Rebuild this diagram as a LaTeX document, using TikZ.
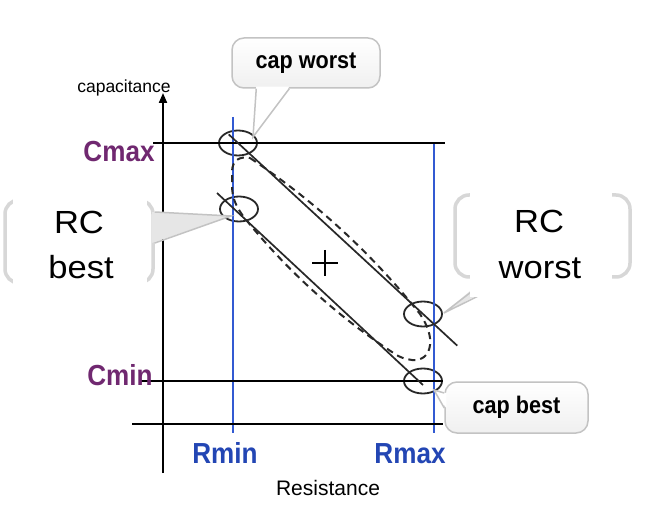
\documentclass[tikz,border=0pt]{standalone}
\usepackage{fontspec}
\setmainfont{Liberation Sans}
\newfontfamily\nbfont[FakeStretch=0.9]{Liberation Sans}
\newfontfamily\wfont[FakeStretch=1.08]{Liberation Sans}
\usetikzlibrary{shapes.geometric,arrows.meta,calc}
\definecolor{cpurple}{RGB}{112,40,112}
\definecolor{cblue}{RGB}{35,70,180}
\definecolor{lblue}{RGB}{50,90,210}
\definecolor{dk}{RGB}{40,40,40}
\definecolor{bord}{RGB}{195,195,195}
\definecolor{rcbord}{RGB}{215,215,215}
\definecolor{ptrfill}{RGB}{230,230,230}
\begin{document}
\begin{tikzpicture}[x=1pt,y=-1pt,
  axisline/.style={draw=black,line width=2},
  gridline/.style={draw=black,line width=1.8},
  rline/.style={draw=lblue,line width=1.6},
  oval/.style={ellipse,draw=dk,line width=1.8,minimum width=38,minimum height=25,inner sep=0},
  diag/.style={draw=dk,line width=1.7},
  dashline/.style={draw=dk,line width=2,dash pattern=on 7pt off 5pt},
  cbox/.style={rectangle,rounded corners=12,draw=bord,line width=1.5,top color=white,bottom color=black!6,
    font=\nbfont\bfseries\fontsize{24}{28}\selectfont,inner sep=0},
  rcbox/.style={rectangle,rounded corners=14,draw=rcbord,line width=3.5,fill=white,inner sep=0},
  rccover/.style={rectangle,fill=white,inner sep=0},
  rctext/.style={font=\wfont\fontsize{32}{36}\selectfont,anchor=base,inner sep=0},
  ptrline/.style={draw=bord,line width=1.5},
  purplelab/.style={font=\nbfont\bfseries\fontsize{29}{32}\selectfont,text=cpurple,anchor=base,inner sep=0},
  bluelab/.style={font=\nbfont\bfseries\fontsize{29}{32}\selectfont,text=cblue,anchor=base,inner sep=0},
]
\useasboundingbox (0,0) rectangle (647,510);
\fill[white] (0,0) rectangle (647,510);

% ellipses
\node[oval] (cw) at (238,143) {};
\node[oval] (rb) at (239,209) {};
\node[oval] (rw) at (423,314) {};
\node[oval] (cb) at (423,381) {};

% blue resistance lines
\draw[rline] (233,117) -- (233,433);
\draw[rline] (434,143) -- (434,433);

% capacitance lines
\draw[gridline] (153,143) -- (445,143);
\draw[gridline] (140,381) -- (443,381);

% axes
\coordinate (yb) at (163,473);
\coordinate (yt) at (163,93);
\coordinate (xl) at (132,424);
\coordinate (xr) at (443,424);
\draw[axisline,-{Triangle[length=10pt,width=8pt]}] (yb) -- (yt);
\draw[axisline] (xl) -- (xr);

% diagonals
\draw[diag] ($(cw.center)!-0.05!(rw.center)$) -- ($(cw.center)!1.185!(rw.center)$);
\draw[diag] ($(rb.center)+(-22,-16)$) -- ($(cb.center)+(0,4)$);

% dashed envelope
\draw[dashline] (250,158) .. controls (314.9,201.2) and (371.5,253.2) .. (420,314)
  .. controls (428,326) and (431,336) .. (430,345)
  .. controls (429,355) and (422,361) .. (412,360)
  .. controls (405,359) and (399,357) .. (395,354)
  .. controls (336.9,316.1) and (286.3,270.1) .. (243,216)
  .. controls (236,206) and (232,198) .. (232,185)
  -- (232,172)
  .. controls (232,160) and (240,156) .. (250,158);

% plus
\draw[line width=2] (312,263) -- (338,263);
\draw[line width=2] (325,250) -- (325,276);

% cap worst callout
\node[cbox,minimum width=148,minimum height=50] (cwbox) at (306,63) {cap worst};
\coordinate (cwt) at ($(cw.center)+(15,-6)$);
\fill[white] ($(cwbox.south west)+(25,-2)$) -- (cwt) -- ($(cwbox.south west)+(58,-2)$) -- cycle;
\draw[ptrline] ($(cwbox.south west)+(25,0)$) -- (cwt) -- ($(cwbox.south west)+(58,0)$);

% cap best callout
\node[cbox,minimum width=143,minimum height=51] (cbbox) at (516.5,407.5) {cap best};
\coordinate (cbt) at ($(cb.center)+(11,9)$);
\fill[white] ($(cbbox.west)+(2,-14.5)$) -- (cbt) -- ($(cbbox.west)+(2,0.5)$) -- cycle;
\draw[ptrline] ($(cbbox.west)+(0,-14.5)$) -- (cbt) -- ($(cbbox.west)+(0,0.5)$);

% RC best callout
\node[rcbox,minimum width=148,minimum height=83] (rbbox) at (79,241.5) {};
\coordinate (rbt) at ($(rb.center)+(-8,7)$);
\fill[ptrfill] ($(rbbox.east)+(-3,-29.5)$) -- (rbt) -- ($(rbbox.east)+(-3,1.5)$) -- cycle;
\draw[ptrline] ($(rbbox.east)+(0,-29.5)$) -- (rbt) -- ($(rbbox.east)+(0,1.5)$);
\node[rccover,minimum width=134,minimum height=102] (rbcov) at (80,241) {};
\node[rctext] (rbt1) at (79,234) {RC};
\node[rctext] (rbt2) at (81,279) {best};

% RC worst callout
\node[rcbox,minimum width=175,minimum height=82] (rwbox) at (542.5,236) {};
\coordinate (rwt) at ($(rw.east)+(1,-1)$);
\fill[ptrfill] ($(rwbox.south west)+(35,-3)$) -- (rwt) -- ($(rwbox.south west)+(60,-3)$) -- cycle;
\draw[ptrline] ($(rwbox.south west)+(35,0)$) -- (rwt) -- ($(rwbox.south west)+(60,0)$);
\node[rccover,minimum width=142,minimum height=115] (rwcov) at (541,239.5) {};
\node[rctext] (rwt1) at (539,233) {RC};
\node[rctext] (rwt2) at (540,279) {worst};

% axis labels
\node[font=\fontsize{17.5}{20}\selectfont,anchor=base,inner sep=0] (cap) at (124,93) {capacitance};
\node[font=\fontsize{21}{24}\selectfont,anchor=base,inner sep=0] (res) at (328,495) {Resistance};
\node[purplelab] (cmaxl) at (119,162) {Cmax};
\node[purplelab] (cminl) at (120,385) {Cmin};
\node[bluelab] (rminl) at (225,463) {Rmin};
\node[bluelab] (rmaxl) at (410,463) {Rmax};
\end{tikzpicture}
\end{document}
